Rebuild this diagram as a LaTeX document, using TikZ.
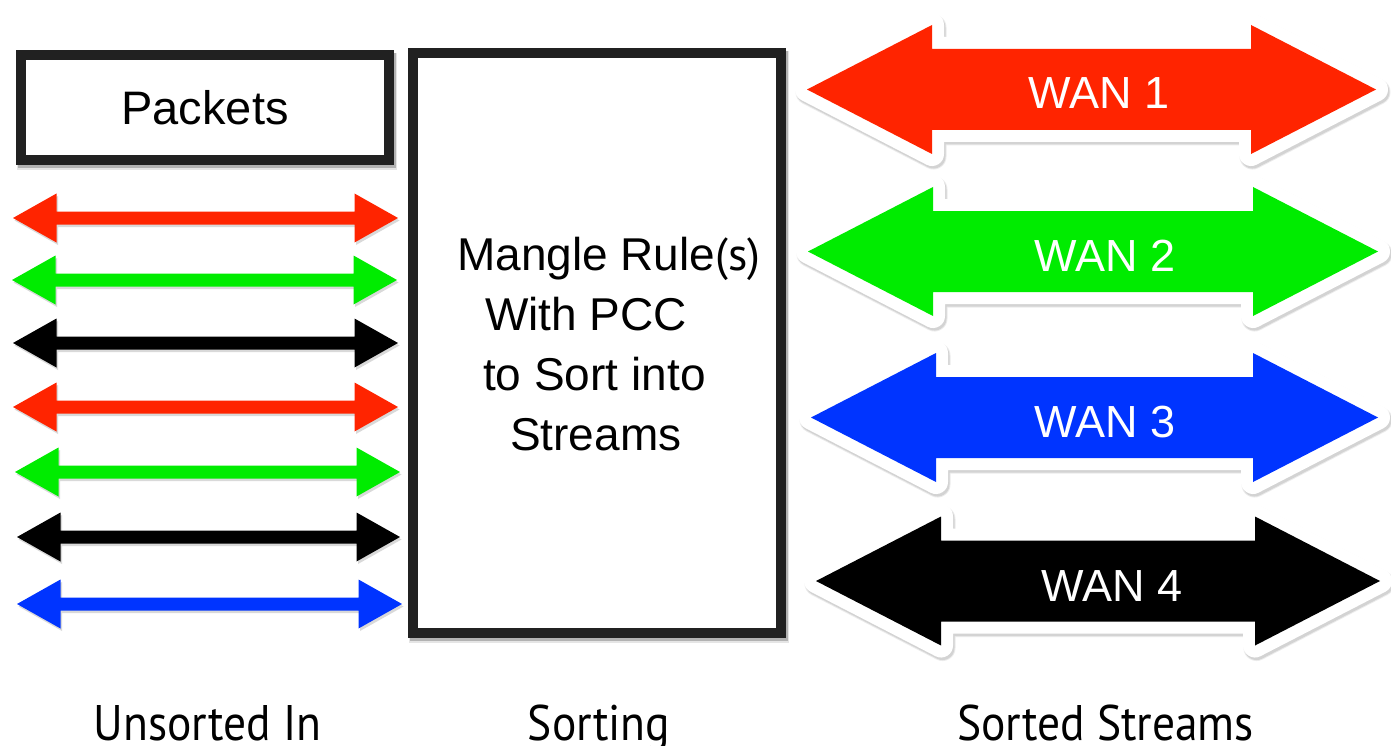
\documentclass[tikz,border=0pt]{standalone}
\usepackage{fontspec}
\setmainfont{Liberation Sans}
\newfontfamily\captionfont{PT Sans}
\usetikzlibrary{backgrounds}

\definecolor{streamred}{RGB}{255,36,0}
\definecolor{streamgreen}{RGB}{0,236,0}
\definecolor{streamblue}{RGB}{0,52,255}
\definecolor{streamblack}{RGB}{0,0,0}
\definecolor{framegray}{RGB}{33,33,33}

\tikzset{
  framebox/.style={rectangle, draw=framegray, line width=10pt, fill=white,
    inner sep=0pt, outer sep=0pt},
  boxshadow/.style={draw=black, line width=10pt, opacity=#1},
  bodytext/.style={font=\fontsize{46}{60}\selectfont, inner sep=0pt},
  wantext/.style={font=\fontsize{45}{50}\selectfont, text=white, inner sep=0pt, anchor=base},
  captiontext/.style={font=\captionfont\fontsize{50}{55}\selectfont, inner sep=0pt,
    anchor=base, xscale=0.91, transform shape},
  % wide double-headed stream arrow: left tip / right tip / centre line
  bigshape/.style args={#1/#2/#3}{insert path={
    (#1,#3) -- ++(125,-64.5) -- ++(0,24) -- ({#2-125},{#3-40.5}) -- ++(0,-24)
    -- (#2,#3) -- ++(-125,64.5) -- ++(0,-24) -- ({#1+125},{#3+40.5}) -- ++(0,24) -- cycle}},
  % slim double-headed packet arrow
  thinshape/.style args={#1/#2/#3}{insert path={
    (#1,#3) -- ++(43.5,-24.5) -- ++(0,18) -- ({#2-43.5},{#3-6.5}) -- ++(0,-18)
    -- (#2,#3) -- ++(-43.5,24.5) -- ++(0,-18) -- ({#1+43.5},{#3+6.5}) -- ++(0,18) -- cycle}},
  arrowshadow/.style={fill=black, opacity=0.15, shift={(1.5,2.5)}},
  haloshadow/.style={draw=black, line width=24pt, line join=round, opacity=#1, shift={(1.5,2.5)}},
  halo/.style={draw=white, line width=24pt, line join=round},
}

\begin{document}
\begin{tikzpicture}[x=1pt, y=-1pt]
\useasboundingbox (0,0) rectangle (1391,746);

% framed boxes
\node[framebox, minimum width=368pt, minimum height=105pt,
      font=\fontsize{47}{50}\selectfont] (packets) at (205,107.5) {Packets};
\node[framebox, minimum width=368.5pt, minimum height=580pt] (sorter) at (596.75,343) {};

% rule description inside the sorting box
\node[bodytext, align=left, anchor=north west] (rules) at (457,237)
  {Mangle Rule{\captionfont(s)}\\
   \hspace*{28pt}With PCC\\
   \hspace*{26pt}to Sort into\\
   \hspace*{53pt}Streams};

% unsorted packet arrows
\foreach \y/\xl/\xr/\c in {218/13/398/streamred, 280/12/397/streamgreen,
    343/13/398/streamblack, 407/13/398/streamred, 472/15/400/streamgreen,
    537/17/400/streamblack, 604/17/402/streamblue} {
  \path[arrowshadow][thinshape=\xl/\xr/\y];
  \fill[\c][thinshape=\xl/\xr/\y];
}

% sorted WAN streams
\foreach \y/\xl/\xr/\c in {89.5/807/1376/streamred, 251.5/808/1378/streamgreen,
    417.5/811/1378/streamblue, 581/816/1380/streamblack} {
  \path[haloshadow=0.10][bigshape=\xl/\xr/\y];
  \path[haloshadow=0.08, line width=26pt][bigshape=\xl/\xr/\y];
  \path[halo][bigshape=\xl/\xr/\y];
  \fill[\c][bigshape=\xl/\xr/\y];
}
\node[wantext] (wan1) at (1099,109) {WAN 1};
\node[wantext] (wan2) at (1105,271) {WAN 2};
\node[wantext] (wan3) at (1105,437) {WAN 3};
\node[wantext] (wan4) at (1112,601) {WAN 4};

% column captions
\node[captiontext] (incap) at (207.5,740) {Unsorted In};
\node[captiontext] (sortcap) at (599,740) {Sorting};
\node[captiontext] (outcap) at (1105.5,740) {Sorted Streams};

% soft shadows under the boxes, offset down and to the right
\begin{scope}[on background layer]
  \fill[white] (0,0) rectangle (1391,746);
  \foreach \b in {packets, sorter} {
    \draw[boxshadow=0.22] ([xshift=2pt, yshift=-3pt]\b.north west)
      rectangle ([xshift=2pt, yshift=-3pt]\b.south east);
    \draw[boxshadow=0.10, line width=12pt] ([xshift=2pt, yshift=-4pt]\b.north west)
      rectangle ([xshift=2pt, yshift=-4pt]\b.south east);
  }
\end{scope}
\end{tikzpicture}
\end{document}
